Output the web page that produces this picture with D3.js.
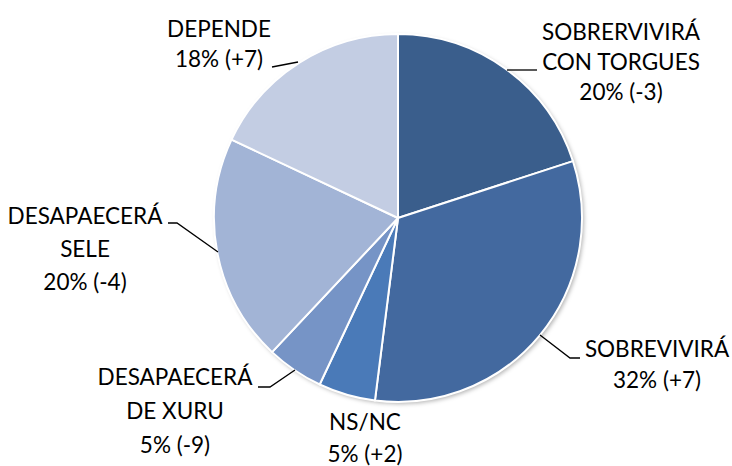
<!DOCTYPE html>
<html>
<head>
<meta charset="utf-8">
<script src="https://cdn.jsdelivr.net/npm/d3@7"></script>
<style>
  body { margin: 0; background: #fff; }
  svg text { font-family: Lato, "Noto Sans", sans-serif; font-size: 22.5px; fill: #000; }
</style>
</head>
<body>
<svg width="732" height="466"></svg>
<script>
// slice names (label lines), shares and change vs. previous
var names = [
  ["SOBRERVIVIRÁ", "CON TORGUES"],
  ["SOBREVIVIRÁ"],
  ["NS/NC"],
  ["DESAPAECERÁ", "DE XURU"],
  ["DESAPAECERÁ", "SELE"],
  ["DEPENDE"]
];
var shares = [20, 32, 5, 5, 20, 18];
var changes = ["-3", "+7", "+2", "-9", "-4", "+7"];

var colors = ["#3a5e8c", "#43699f", "#4a7ab8", "#7694c6", "#a2b4d6", "#c3cde3"];

var svg = d3.select("svg"),
    cx = 398, cy = 218, r = 184;

var defs = svg.append("defs");
var f = defs.append("filter").attr("id", "shadow")
  .attr("x", "-10%").attr("y", "-10%").attr("width", "120%").attr("height", "120%");
f.append("feDropShadow").attr("dx", 2).attr("dy", 2).attr("stdDeviation", 2)
  .attr("flood-color", "#000").attr("flood-opacity", 0.3);

var pie = d3.pie().sort(null).value(function(d) { return d; });
var arc = d3.arc().innerRadius(0).outerRadius(r);
var arcs = pie(shares);

var g = svg.append("g").attr("transform", "translate(" + cx + "," + cy + ")");

g.append("circle").attr("r", r).attr("fill", "#fff").attr("filter", "url(#shadow)");

g.selectAll("path.slice")
  .data(arcs)
  .enter().append("path")
  .attr("class", "slice")
  .attr("d", arc)
  .attr("fill", function(d, i) { return colors[i]; })
  .attr("stroke", "#fff")
  .attr("stroke-width", 2)
  .attr("stroke-linejoin", "round");

// label placement: x centre, first baseline, line step
var labelPos = [
  { x: 621, y: 40, step: 30 },
  { x: 657, y: 357, step: 31 },
  { x: 365, y: 430, step: 32 },
  { x: 175, y: 385, step: 34 },
  { x: 85, y: 224, step: 33 },
  { x: 219, y: 37, step: 30 }
];

// leader lines (pie edge -> label)
var leaders = [
  [[507, 70], [537, 70]],
  [[540, 335], [570, 358], [580, 358]],
  null,
  [[295, 370], [270, 387], [258, 387]],
  [[218, 252], [177, 223], [168, 223]],
  [[298, 62], [272, 67]]
];

var line = d3.line();
svg.append("g").selectAll("path")
  .data(leaders.filter(function(d) { return d; }))
  .enter().append("path")
  .attr("d", line)
  .attr("fill", "none")
  .attr("stroke", "#000")
  .attr("stroke-width", 1.3);

var labels = svg.append("g").selectAll("text")
  .data(arcs)
  .enter().append("text")
  .attr("text-anchor", "middle");

labels.each(function(d, i) {
  var t = d3.select(this), p = labelPos[i];
  var lines = names[i].concat([shares[i] + "% (" + changes[i] + ")"]);
  lines.forEach(function(s, j) {
    t.append("tspan").attr("x", p.x).attr("y", p.y + j * p.step).text(s);
  });
});
</script>
</body>
</html>
